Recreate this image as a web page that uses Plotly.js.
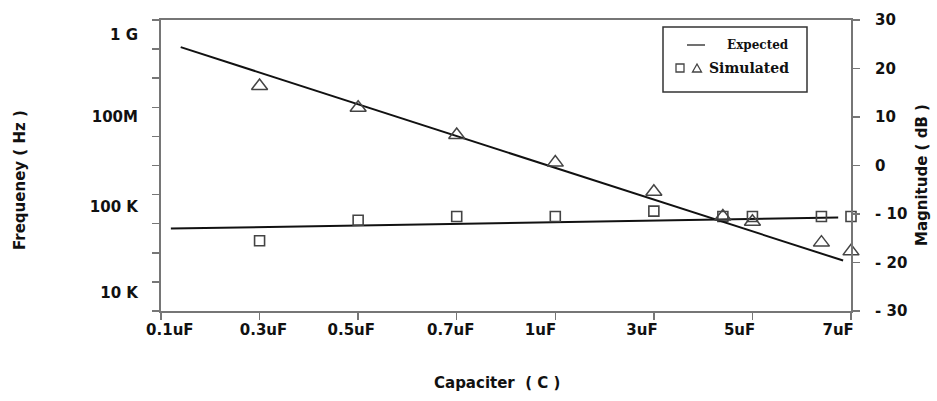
<!DOCTYPE html>
<html>
<head>
<meta charset="utf-8">
<script src="https://cdn.plot.ly/plotly-3.0.1.min.js"></script>
<style>
  html, body { margin: 0; padding: 0; background: #fff; }
  #chart { width: 937px; height: 401px; }
</style>
</head>
<body>
<div id="chart"></div>
<script>
// ---- data ----
const xTickLabels = ['0.1uF', '0.3uF', '0.5uF', '0.7uF', '1uF', '3uF', '5uF', '7uF'];
const xTickPos = [0, 1, 2, 3, 4, 5, 6, 7];
const xLabelPos = [0.09, 1.04, 1.93, 2.94, 3.85, 4.88, 5.87, 6.87];

const freqTickText = ['10 K', '100 K', '100M', '1 G'];
const freqTickPos = [-26.3, -8.6, 10.0, 26.9];

const magTickVals = [-30, -20, -10, 0, 10, 20, 30];
const magTickText = ['- 30', '- 20', '- 10', '0', '10', '20', '30'];

const simX = [1, 2, 3, 4, 5, 5.7, 6, 6.7, 7];
const simMagnitude = [16.4, 11.9, 6.3, 0.6, -5.4, -10.5, -11.6, -15.9, -17.7];
const simFrequency = [-15.5, -11.3, -10.5, -10.5, -9.4, -10.5, -10.5, -10.5, -10.5];

const expMagX = [0.2, 6.92];
const expMagnitude = [24.4, -19.6];
const expFreqX = [0.1, 6.87];
const expFrequency = [-13.0, -10.7];

// ---- layout helpers ----
const W = 937, H = 401;
const L = 161, R = 851, T = 20, B = 311;
const px = x => (x - L) / (R - L);
const py = y => (B - y) / (B - T);

const frameColor = '#767676';
const tickFont = { family: 'DejaVu Sans', size: 15, color: '#111', weight: 'bold' };

const traces = [
  { x: expMagX, y: expMagnitude, yaxis: 'y2', mode: 'lines',
    line: { color: '#111', width: 2 }, hoverinfo: 'skip' },
  { x: expFreqX, y: expFrequency, yaxis: 'y', mode: 'lines',
    line: { color: '#111', width: 2 }, hoverinfo: 'skip' },
  { x: simX, y: simMagnitude, yaxis: 'y2', mode: 'markers', cliponaxis: false,
    marker: { symbol: 'triangle-up-open', size: 14, color: '#444', line: { color: '#444', width: 1.5 } } },
  { x: simX, y: simFrequency, yaxis: 'y', mode: 'markers', cliponaxis: false,
    marker: { symbol: 'square-open', size: 10, color: '#444', line: { color: '#444', width: 1.6 } } }
];

const legendBox = { x0: 663, x1: 807, y0: 27, y1: 92 };

const shapes = [
  { type: 'rect', xref: 'paper', yref: 'paper',
    x0: px(legendBox.x0), x1: px(legendBox.x1), y0: py(legendBox.y1), y1: py(legendBox.y0),
    line: { color: '#333', width: 1.5 }, fillcolor: 'rgba(0,0,0,0)' },
  { type: 'line', xref: 'paper', yref: 'paper',
    x0: px(687), x1: px(705), y0: py(45), y1: py(45), line: { color: '#111', width: 1.2 } },
  { type: 'rect', xref: 'paper', yref: 'paper',
    x0: px(676), x1: px(684), y0: py(72), y1: py(64), line: { color: '#444', width: 1.3 } },
  { type: 'path', xref: 'paper', yref: 'paper',
    path: 'M ' + px(692.5) + ' ' + py(72) + ' L ' + px(701.5) + ' ' + py(72) + ' L ' + px(697) + ' ' + py(64) + ' Z',
    line: { color: '#444', width: 1.3 } }
];

const annotations = [
  { text: 'Expected', xref: 'paper', yref: 'paper', x: px(791), y: py(45), xanchor: 'right', yanchor: 'middle',
    showarrow: false, font: { family: 'DejaVu Serif', size: 12, color: '#111', weight: 'bold' } },
  { text: 'Simulated', xref: 'paper', yref: 'paper', x: px(791), y: py(68), xanchor: 'right', yanchor: 'middle',
    showarrow: false, font: { family: 'DejaVu Serif', size: 14, color: '#111', weight: 'bold' } },
  { text: 'Capaciter  ( C )', xref: 'paper', yref: 'paper', x: px(497), y: py(383), xanchor: 'center', yanchor: 'middle',
    showarrow: false, font: { family: 'DejaVu Sans', size: 15, color: '#111', weight: 'bold' } },
  { text: 'Frequeney ( Hz )', xref: 'paper', yref: 'paper', x: px(20), y: py(180), xanchor: 'center', yanchor: 'middle',
    textangle: -90, showarrow: false, font: { family: 'DejaVu Sans', size: 15, color: '#111', weight: 'bold' } },
  { text: 'Magnitude ( dB )', xref: 'paper', yref: 'paper', x: px(922), y: py(175), xanchor: 'center', yanchor: 'middle',
    textangle: -90, showarrow: false, font: { family: 'DejaVu Sans', size: 15, color: '#111', weight: 'bold' } }
];

const layout = {
  width: W, height: H,
  margin: { l: L, r: W - R, t: T, b: H - B, pad: 0 },
  paper_bgcolor: '#fff', plot_bgcolor: '#fff',
  showlegend: false,
  xaxis: {
    range: [0, 7], showgrid: false, zeroline: false,
    showline: true, linecolor: frameColor, linewidth: 2, mirror: true,
    tickmode: 'array', tickvals: xLabelPos, ticktext: xTickLabels, ticks: '',
    ticklabelstandoff: 4, tickfont: tickFont,
    minor: { tickmode: 'array', tickvals: xTickPos, ticks: 'outside', ticklen: 7, tickwidth: 1.5, tickcolor: frameColor, showgrid: false }
  },
  yaxis: {
    range: [-30, 30], showgrid: false, zeroline: false,
    showline: true, linecolor: frameColor, linewidth: 2,
    tickmode: 'array', tickvals: freqTickPos, ticktext: freqTickText, ticks: '',
    ticklabelstandoff: 18, tickfont: tickFont,
    minor: { tickmode: 'linear', tick0: -30, dtick: 6, ticks: 'outside', ticklen: 7, tickwidth: 1.5, tickcolor: frameColor, showgrid: false }
  },
  yaxis2: {
    overlaying: 'y', side: 'right', anchor: 'x',
    range: [-30, 30], showgrid: false, zeroline: false,
    showline: true, linecolor: frameColor, linewidth: 2,
    tickmode: 'array', tickvals: magTickVals, ticktext: magTickText,
    ticks: 'outside', ticklen: 7, tickwidth: 1.5, tickcolor: frameColor,
    ticklabelstandoff: 12, tickfont: tickFont
  },
  shapes: shapes,
  annotations: annotations
};

Plotly.newPlot('chart', traces, layout, { displayModeBar: false, staticPlot: true });
</script>
</body>
</html>
